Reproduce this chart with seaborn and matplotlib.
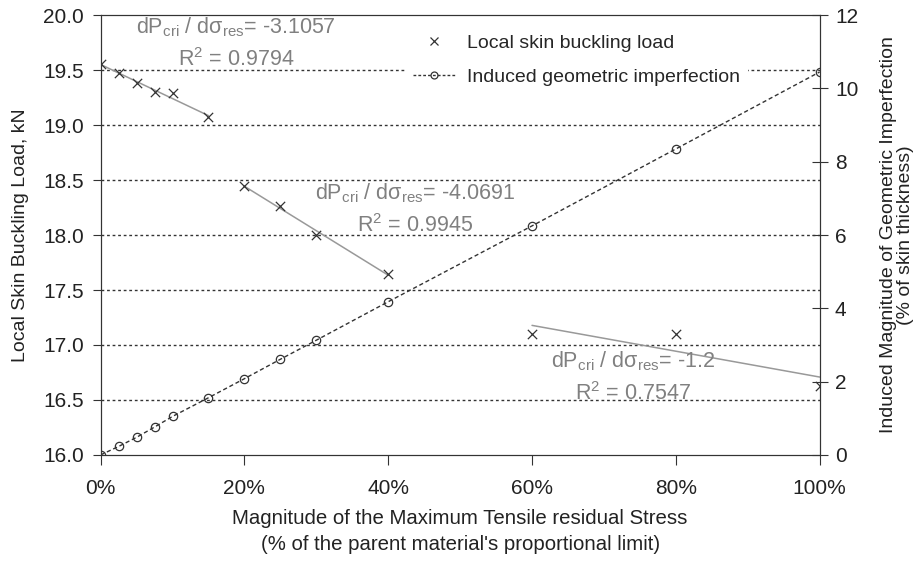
#Librerías
import numpy as np
import pandas as pd
import seaborn as sns
import matplotlib
matplotlib.use("Agg")
import matplotlib.pyplot as plt
from matplotlib.ticker import PercentFormatter
from matplotlib.lines import Line2D

#DATOS
stress = [0, 0.025, 0.05, 0.075, 0.10, 0.15, 0.20, 0.25, 0.30, 0.40, 0.60, 0.80, 1.00]
buckling_load = [19.56, 19.47, 19.38, 19.30, 19.29, 19.07, 18.45, 18.26, 18.00, 17.65, 17.10, 17.10, 16.63]
imperfection = [0, 0.23, 0.48, 0.76, 1.05, 1.56, 2.08, 2.61, 3.13, 4.18, 6.25, 8.35, 10.45]
segment = [0, 0, 0, 0, 0, 0, 1, 1, 1, 1, 2, 2, 2]
slope_labels = ["-3.1057", "-4.0691", "-1.2"]
r2_labels = ["0.9794", "0.9945", "0.7547"]

df = pd.DataFrame({"stress": stress, "load": buckling_load,
                   "imperf": imperfection, "seg": segment})

sns.set_style("ticks")
plt.rcParams["font.family"] = ["Liberation Sans", "DejaVu Sans"]
plt.rcParams["mathtext.fontset"] = "custom"
plt.rcParams["mathtext.rm"] = "Liberation Sans"
plt.rcParams["mathtext.it"] = "Liberation Sans:italic"
plt.rcParams["axes.edgecolor"] = "#333333"
plt.rcParams["xtick.color"] = "#333333"
plt.rcParams["ytick.color"] = "#333333"

fig, ax = plt.subplots(figsize=(9.23, 5.63), dpi=100)
fig.subplots_adjust(left=0.109, right=0.888, top=0.973, bottom=0.192)

#Líneas de tendencia por tramo
for s in sorted(df["seg"].unique()):
    sns.regplot(data=df[df["seg"] == s], x="stress", y="load", ax=ax,
                scatter=False, ci=None, truncate=True,
                line_kws={"color": "#999999", "lw": 1.1})

#Carga de pandeo (cruces)
sns.scatterplot(data=df, x="stress", y="load", ax=ax, marker="x",
                color="#333333", s=45, linewidth=0.9, zorder=3)

ax.set_xlim(0, 1)
ax.set_ylim(16, 20)
ax.set_yticks(np.arange(16, 20.01, 0.5))
ax.yaxis.set_major_formatter(plt.FormatStrFormatter("%.1f"))
ax.xaxis.set_major_formatter(PercentFormatter(1.0, decimals=0))
ax.set_xticks(np.arange(0, 1.01, 0.2))
for yv in np.arange(16.5, 20, 0.5):
    ax.axhline(yv, color="#333333", lw=1, ls=(0, (2, 2)), zorder=1)
ax.tick_params(axis="x", labelsize=15, length=7, direction="out", pad=10, labelcolor="#222222")
ax.tick_params(axis="y", labelsize=15, length=6, direction="out", pad=6, labelcolor="#222222")
ax.set_xlabel("Magnitude of the Maximum Tensile residual Stress\n(% of the parent material's proportional limit)",
              fontsize=14.7, color="#222222", labelpad=8, linespacing=1.5)
ax.set_ylabel("Local Skin Buckling Load, kN", fontsize=14, color="#222222", labelpad=10)

#Anotaciones de pendiente y R2
txt_pos = [(0.188, 19.89, 19.60), (0.437, 18.38, 18.09), (0.74, 16.85, 16.56)]
for (xp, y1, y2), sl, r2 in zip(txt_pos, slope_labels, r2_labels):
    ax.text(xp, y1, r"dP$_{\mathrm{cri}}$ / d$\mathrm{σ}_{\mathrm{res}}$= " + sl,
            ha="center", va="center", fontsize=15.5, color="#808080", zorder=4)
    ax.text(xp, y2, r"R$^{2}$ = " + r2, ha="center", va="center",
            fontsize=15.5, color="#808080", zorder=4)

#Eje secundario: imperfección geométrica
ax2 = ax.twinx()
sns.lineplot(data=df, x="stress", y="imperf", ax=ax2, color="#333333",
             lw=1, ls=(0, (3, 2)), marker="o", markersize=6,
             markerfacecolor="none", markeredgecolor="#333333",
             markeredgewidth=0.9)
ax2.set_ylim(0, 12)
ax2.set_yticks(np.arange(0, 12.1, 2))
ax2.tick_params(labelsize=15, length=12, direction="inout", pad=5, labelcolor="#222222")
ax2.set_ylabel("Induced Magnitude of Geometric Imperfection\n(% of skin thickness)",
               fontsize=14, color="#222222", labelpad=16, linespacing=1.0)
ax2.set_xlabel("")

handles = [Line2D([], [], ls="none", marker="x", color="#333333", markersize=6, mew=0.9),
           Line2D([], [], ls=(0, (2, 1.5)), lw=1, color="#333333", marker="o",
                  markersize=5, mfc="none", mew=0.9)]
leg = ax2.legend(handles, ["Local skin buckling load", "Induced geometric imperfection"],
                 loc="upper left", bbox_to_anchor=(0.41, 0.997), fontsize=14,
                 frameon=True, framealpha=1, facecolor="white", edgecolor="none",
                 labelspacing=0.85, handlelength=2.2, handletextpad=0.6, fancybox=False)

fig.savefig("out.png", dpi=100)
